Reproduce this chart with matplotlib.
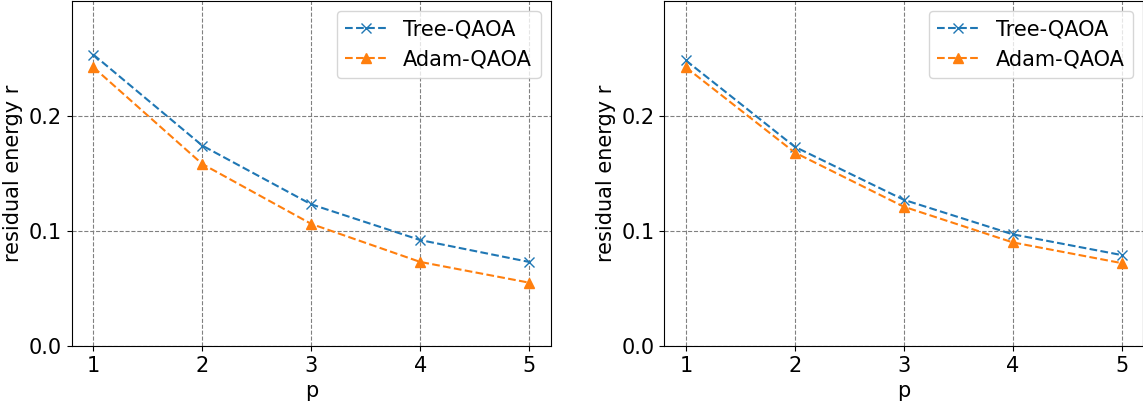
import matplotlib
matplotlib.use("Agg")
import matplotlib.pyplot as plt

# data
p = [1, 2, 3, 4, 5]

tree_left = [0.253, 0.174, 0.123, 0.092, 0.073]
adam_left = [0.242, 0.158, 0.106, 0.073, 0.055]

tree_right = [0.248, 0.173, 0.127, 0.097, 0.079]
adam_right = [0.242, 0.168, 0.121, 0.090, 0.072]

label_size = 15

fig = plt.figure(figsize=(11.43, 4.04), dpi=100)
ax1 = fig.add_axes([0.0627, 0.1436, 0.4193, 0.855])
ax2 = fig.add_axes([0.581, 0.1436, 0.4193, 0.855])

for ax, tree, adam in [(ax1, tree_left, adam_left), (ax2, tree_right, adam_right)]:
    ax.set_axisbelow(True)
    ax.plot(p, tree, linestyle='--', marker='x', color='tab:blue', label='Tree-QAOA', markersize=7)
    ax.plot(p, adam, linestyle='--', marker='^', color='tab:orange', label='Adam-QAOA', markersize=7)
    ax.set_ylim(0, 0.3)
    ax.set_yticks([0.0, 0.1, 0.2])
    ax.set_xticks(p)
    ax.tick_params(labelsize=label_size)
    ax.set_xlabel('p', fontsize=label_size)
    ax.set_ylabel('residual energy r', fontsize=label_size)
    ax.grid(True, linestyle='--', color='grey', linewidth=0.8)
    ax.legend(loc='upper right', fontsize=label_size)

fig.savefig('out.png', dpi=100)
